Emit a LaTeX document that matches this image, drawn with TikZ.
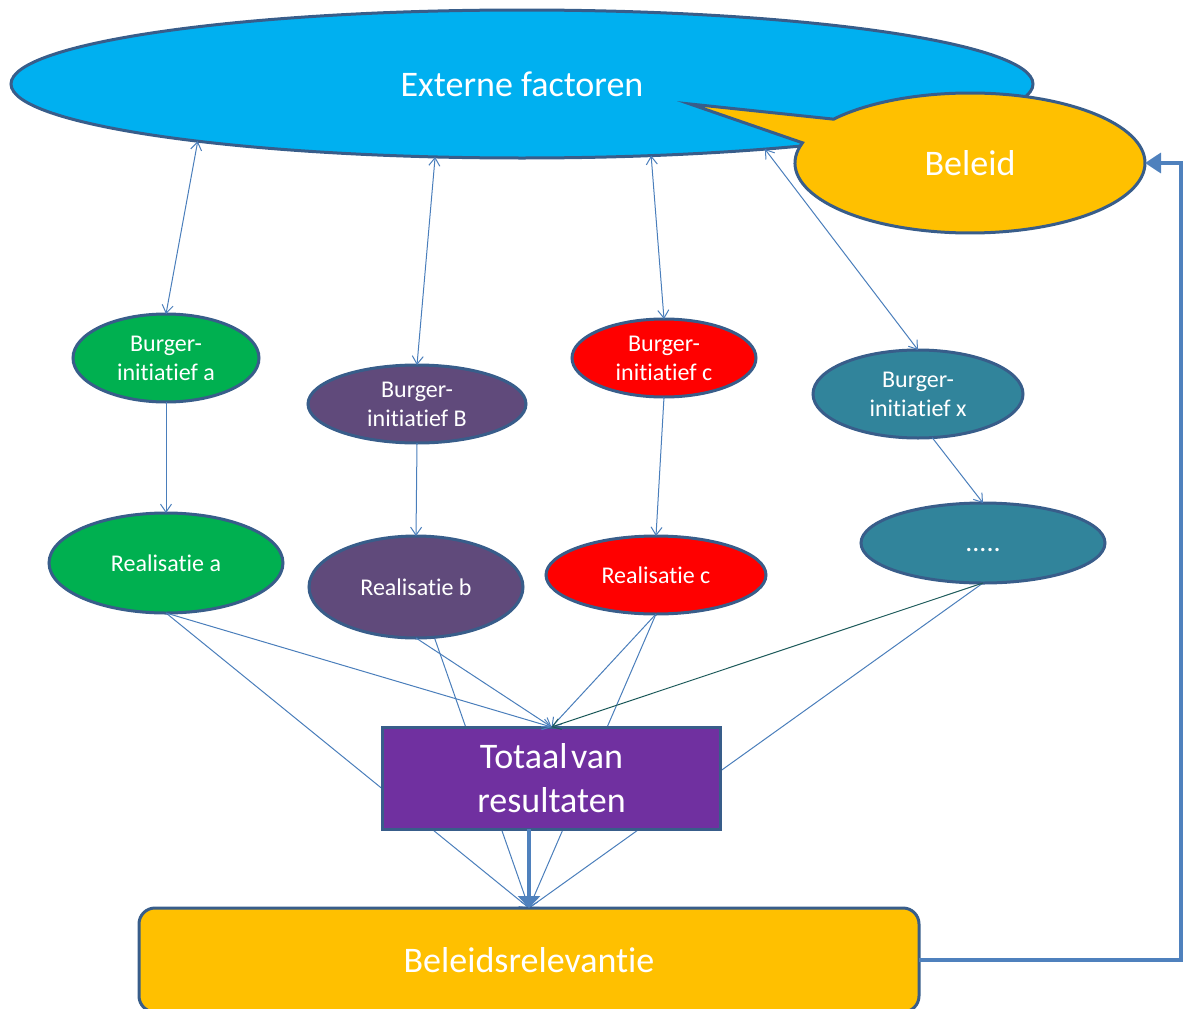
\documentclass[tikz,border=0pt]{standalone}
\usepackage{fontspec}
\setmainfont[Ligatures={NoCommon,NoContextual,NoRequired},RawFeature={-liga;-clig;-calt;-dlig}]{Carlito}
\usetikzlibrary{arrows.meta,shapes.geometric,shapes.callouts,backgrounds,calc}
\definecolor{extblue}{HTML}{00B0F0}
\definecolor{bord}{HTML}{385D8A}
\definecolor{linkc}{HTML}{4A7EBB}
\definecolor{thickc}{HTML}{4F81BD}
\definecolor{gold}{HTML}{FFC000}
\definecolor{grn}{HTML}{00B050}
\definecolor{purp}{HTML}{604A7B}
\definecolor{redc}{HTML}{FF0000}
\definecolor{tealc}{HTML}{31849B}
\definecolor{violetc}{HTML}{7030A0}
\definecolor{dkgreen}{HTML}{1D5A5A}
\begin{document}
\begin{tikzpicture}[x=1pt,y=-1pt,
  shp/.style={draw=bord, line width=3pt, text=white, inner sep=0pt, outer sep=0pt, align=center},
  ell/.style={shp, ellipse},
  smalltxt/.style={font=\fontsize{24}{29}\selectfont},
  bigtxt/.style={font=\fontsize{36}{44}\selectfont},
  link/.style={draw=linkc, line width=1pt},
  biarrow/.style={link, {Straight Barb[length=8pt,width=11pt]}-{Straight Barb[length=8pt,width=11pt]}},
  arr/.style={link, -{Straight Barb[length=8pt,width=11pt]}},
  fat/.style={draw=thickc, line width=3.5pt},
]
\useasboundingbox (0,0) rectangle (1183,1009);

% nodes
\node[ell, fill=extblue, minimum width=1022pt, minimum height=148pt, bigtxt] (ext) at (522,84) {Externe factoren};
\node[shp, ellipse callout, fill=gold, minimum width=350pt, minimum height=140pt,
      callout absolute pointer={(690,104)}, callout pointer arc=22, bigtxt] (beleid) at (970,163) {Beleid};

\node[ell, fill=grn, minimum width=186pt, minimum height=88pt, smalltxt] (ba) at (166,358) {Burger-\\initiatief a};
\node[ell, fill=purp, minimum width=218pt, minimum height=78pt, smalltxt] (bb) at (417,404) {Burger-\\initiatief B};
\node[ell, fill=redc, minimum width=184pt, minimum height=78pt, smalltxt] (bc) at (664,358) {Burger-\\initiatief c};
\node[ell, fill=tealc, minimum width=210pt, minimum height=88pt, smalltxt] (bx) at (918,394) {Burger-\\initiatief x};

\node[ell, fill=grn, minimum width=234pt, minimum height=100pt, smalltxt] (ra) at (166,563) {Realisatie a};
\node[ell, fill=purp, minimum width=214pt, minimum height=102pt, smalltxt] (rb) at (416,587) {Realisatie b};
\node[ell, fill=redc, minimum width=220pt, minimum height=78pt, smalltxt] (rc) at (656,575) {Realisatie c};
\node[ell, fill=tealc, minimum width=244pt, minimum height=80pt, font=\fontsize{28}{32}\selectfont] (dots) at (983,543) {\raisebox{-8pt}[0pt][0pt]{.....}};

\node[shp, rectangle, fill=violetc, minimum width=338pt, minimum height=102pt, bigtxt] (tot) at (551.5,778) {Totaal\hspace{0.1em}van\\resultaten};
\node[shp, rectangle, rounded corners=16pt, fill=gold, minimum width=780pt, minimum height=104pt, bigtxt] (brel) at (529,960) {Beleidsrelevantie};

% externe factoren <-> burgerinitiatieven
\draw[biarrow] (ext.190) -- (ba.north);
\draw[biarrow] (ext.220) -- (bb.north);
\draw[biarrow] (ext.331.5) -- (bc.north);
\draw[biarrow] (ext.345) -- (bx.north);

% burgerinitiatief -> realisatie
\draw[arr] (ba.south) -- (ra.north);
\draw[arr] (bb.south) -- (rb.north);
\draw[arr] (bc.south) -- (rc.north);
\draw[arr] (bx.288) -- (dots.north);

% realisatie -> totaal
\draw[arr] (ra.south) -- (tot.north);
\draw[arr] (rb.south) -- (tot.north);
\draw[arr] (rc.south) -- (tot.north);
\draw[arr, draw=dkgreen] (dots.south) -- (tot.north);

% realisatie -> beleidsrelevantie (behind totaal)
\begin{pgfonlayer}{background}
\draw[arr] (ra.south) -- (brel.north);
\draw[arr] (rb.290) -- (brel.north);
\draw[arr] (rc.south) -- (brel.north);
\draw[arr] (dots.south) -- (brel.north);
\end{pgfonlayer}

% totaal -> beleidsrelevantie
\draw[fat, -{Triangle[length=12pt,width=22pt]}] (brel.north |- tot.south) -- (brel.north);

% feedback
\draw[fat, -{Triangle[length=16pt,width=20pt]}] (brel.east) -- ++(262,0) |- (beleid.east);
\end{tikzpicture}
\end{document}
